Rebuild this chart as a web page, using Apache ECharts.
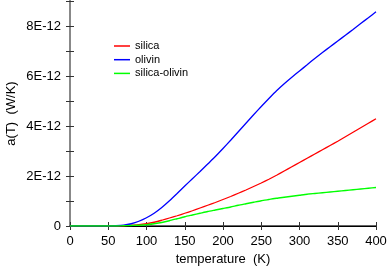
<!DOCTYPE html>
<html>
<head>
<meta charset="utf-8">
<script src="https://cdn.jsdelivr.net/npm/echarts@6/dist/echarts.min.js"></script>
<style>html,body{margin:0;padding:0;background:#fff}#c{width:390px;height:269px}</style>
</head>
<body>
<div id="c"></div>
<script>
// temperature (K)
var temperature = [0,10,20,30,40,50,60,70,80,90,100,110,120,130,140,150,160,170,180,190,200,210,220,230,240,250,260,270,280,290,300,310,320,330,340,350,360,370,380,390,400];
// values in units of 1E-12 W/K
var silica = [0,0,0,0,0,0,0,0.01,0.03,0.05,0.09,0.15,0.23,0.32,0.41,0.51,0.61,0.72,0.83,0.94,1.06,1.18,1.31,1.44,1.58,1.72,1.87,2.03,2.20,2.37,2.54,2.71,2.88,3.05,3.22,3.39,3.57,3.75,3.93,4.11,4.29];
var olivin = [0,0,0,0,0,0,0.01,0.03,0.09,0.19,0.33,0.51,0.74,1.01,1.30,1.60,1.89,2.18,2.48,2.78,3.10,3.43,3.77,4.11,4.45,4.78,5.10,5.41,5.69,5.95,6.20,6.45,6.70,6.94,7.17,7.40,7.63,7.86,8.10,8.33,8.57];
var silicaOlivin = [0,0,0,0,0,0,0,0.01,0.02,0.03,0.05,0.09,0.14,0.21,0.29,0.37,0.44,0.51,0.58,0.64,0.70,0.76,0.83,0.89,0.95,1.01,1.06,1.11,1.15,1.19,1.23,1.27,1.30,1.33,1.36,1.39,1.42,1.45,1.48,1.51,1.54];
var seriesNames = ['silica','olivin','silica-olivin'];
var seriesColors = ['#ff0000','#0000ff','#00ff00'];
var yTickLabels = ['0','','2E-12','','4E-12','','6E-12','','8E-12',''];

function pairs(arr){ return temperature.map(function(t,i){ return [t, arr[i]]; }); }
var font = 'Liberation Sans, Arial, sans-serif';
var chart = echarts.init(document.getElementById('c'), null, {renderer:'canvas'});
var axisLine = {show:true, lineStyle:{color:'#333', width:1.5}};
chart.setOption({
  animation:false,
  grid:{left:70, right:14, top:1, bottom:43, containLabel:false, outerBoundsMode:'none'},
  legend:{
    orient:'vertical', left:109, top:35, itemWidth:16, itemHeight:1.5, itemGap:1.7,
    icon:'rect',
    data:seriesNames,
    textStyle:{fontFamily:font, fontSize:11, color:'#000', lineHeight:12}
  },
  xAxis:[{
    type:'value', min:0, max:400, interval:50,
    name:'temperature  (K)', nameLocation:'middle', nameGap:27, nameMoveOverlap:false,
    nameTextStyle:{fontFamily:font, fontSize:13, color:'#000'},
    axisLine:axisLine,
    axisTick:{show:true, inside:true, length:4, lineStyle:{color:'#333'}},
    axisLabel:{fontFamily:font, fontSize:13, color:'#000', margin:9},
    splitLine:{show:false}
  },{
    type:'value', min:0, max:400, interval:50, position:'top',
    axisLine:{show:true, lineStyle:{color:'#000', width:1}},
    axisTick:{show:true, inside:true, length:4, lineStyle:{color:'#333'}},
    axisLabel:{show:false}, splitLine:{show:false}
  }],
  yAxis:[{
    type:'value', min:0, max:9, interval:1,
    name:'a(T)  (W/K)', nameLocation:'middle', nameGap:52, nameMoveOverlap:false,
    nameTextStyle:{fontFamily:font, fontSize:13, color:'#000'},
    axisLine:axisLine,
    axisTick:{show:true, inside:true, length:4, lineStyle:{color:'#333'}},
    axisLabel:{fontFamily:font, fontSize:13, color:'#000', margin:9,
      formatter:function(v){ var i=Math.round(v); return yTickLabels[i] || ''; }},
    splitLine:{show:false}
  },{
    type:'value', min:0, max:9, interval:1, position:'right',
    axisLine:{show:true, lineStyle:{color:'#888', width:2}},
    axisTick:{show:true, inside:true, length:4, lineStyle:{color:'#333'}},
    axisLabel:{show:false}, splitLine:{show:false}
  }],
  series:[silica, olivin, silicaOlivin].map(function(arr,i){
    return {name:seriesNames[i], type:'line', data:pairs(arr), symbol:'none', smooth:0.2,
      lineStyle:{color:seriesColors[i], width:1.3}, itemStyle:{color:seriesColors[i]}};
  })
});
</script>
</body>
</html>
